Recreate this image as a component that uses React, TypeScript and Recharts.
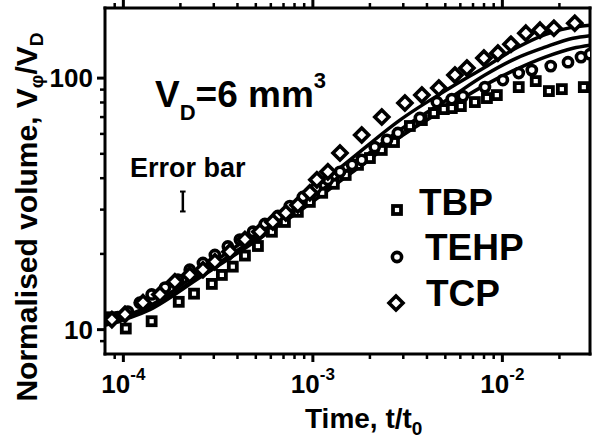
import React from "react";
import { ComposedChart, XAxis, YAxis, Line, Scatter, ReferenceLine } from "recharts";

const FONT = "'Liberation Sans', Arial, Helvetica, sans-serif";

// measured points (t/t0, V/VD)
const tbpTime = [8.7e-5, 1.03e-4, 1.41e-4, 1.96e-4, 2.36e-4, 2.93e-4, 3.31e-4, 3.78e-4, 4.38e-4, 5.13e-4, 6.08e-4, 7.12e-4, 8.33e-4, 9.64e-4, 1.12e-3, 1.29e-3, 1.49e-3, 1.73e-3, 2.0e-3, 2.31e-3, 2.68e-3, 3.25e-3, 3.76e-3, 4.35e-3, 4.91e-3, 5.41e-3, 6.04e-3, 7.16e-3, 8.29e-3, 9.35e-3, 1.22e-2, 1.5e-2, 1.76e-2, 2.06e-2, 2.69e-2];
const tbpVol = [11.2, 10.1, 10.8, 12.9, 13.9, 15.2, 16.5, 17.8, 19.7, 21.5, 24.5, 26.8, 29.4, 32.2, 35.0, 38.0, 41.2, 45.2, 48.1, 51.8, 55.7, 64.5, 68.1, 72.6, 75.3, 76.0, 77.4, 80.3, 83.3, 85.6, 92.1, 97.3, 88.8, 90.4, 92.1];

const tehpTime = [8.49e-5, 9.35e-5, 1.056e-4, 1.22e-4, 1.41e-4, 1.66e-4, 1.94e-4, 2.24e-4, 2.63e-4, 3.04e-4, 3.56e-4, 4.12e-4, 4.83e-4, 5.58e-4, 6.54e-4, 7.56e-4, 8.86e-4, 1.04e-3, 1.2e-3, 1.39e-3, 1.61e-3, 1.81e-3, 2.12e-3, 2.46e-3, 2.81e-3, 3.67e-3, 4.51e-3, 5.41e-3, 6.19e-3, 8.09e-3, 1.006e-2, 1.22e-2, 1.43e-2, 1.8e-2, 2.22e-2, 2.6e-2, 2.9e-2];
const tehpVol = [10.96, 11.2, 11.8, 12.8, 13.8, 14.7, 15.8, 17.3, 18.4, 19.8, 21.4, 22.8, 24.5, 26.3, 28.3, 31.0, 33.7, 36.6, 39.4, 42.4, 45.2, 47.3, 53.2, 56.8, 60.5, 69.4, 80.3, 82.5, 84.8, 92.1, 98.2, 104.7, 107.6, 111.6, 115.7, 121.2, 124.5];

const tcpTime = [8.7e-5, 1.02e-4, 1.27e-4, 1.56e-4, 1.87e-4, 2.24e-4, 2.63e-4, 3.04e-4, 3.65e-4, 4.38e-4, 5.25e-4, 6.15e-4, 7.2e-4, 8.33e-4, 9.64e-4, 1.05e-3, 1.2e-3, 1.39e-3, 1.81e-3, 2.31e-3, 3.06e-3, 3.76e-3, 4.62e-3, 5.62e-3, 6.5e-3, 7.99e-3, 9.47e-3, 1.11e-2, 1.33e-2, 1.58e-2, 1.87e-2, 2.41e-2];
const tcpVol = [10.96, 11.5, 12.8, 13.8, 15.5, 16.5, 17.3, 18.6, 20.4, 22.8, 24.5, 26.8, 29.1, 31.3, 35.0, 39.4, 42.4, 50.4, 59.4, 70.0, 79.6, 85.6, 91.3, 102.8, 109.6, 120.1, 125.7, 136.4, 150.9, 155.1, 157.9, 165.3];

// model curves
const fitTime = [8e-5, 1.38e-4, 2.53e-4, 4.65e-4, 8.54e-4, 1.57e-3, 2.88e-3, 5.28e-3, 8.09e-3, 1.19e-2, 1.68e-2, 2.36e-2, 2.9e-2];
const fitTcpVol = [10.7, 12.45, 17.0, 23.4, 32.8, 47.3, 68.1, 91.3, 110.5, 132.0, 149.0, 159.5, 162.3];
const fitTehpVol = [10.5, 12.1, 16.4, 22.3, 30.8, 43.9, 62.2, 83.3, 102.8, 120.1, 132.7, 144.1, 147.5];
const fitTbpVol = [10.4, 12.0, 16.1, 21.7, 29.7, 41.6, 58.3, 77.4, 93.8, 108.6, 121.2, 131.5, 135.2];

// error bar annotation
const errTime = 2.06e-4;
const errCapLeft = 1.99e-4;
const errCapRight = 2.13e-4;
const errLow = 29.5;
const errHigh = 35.4;

const xMajor = [1e-4, 1e-3, 1e-2];
const xExp = ["-4", "-3", "-2"];
const xMinor = [9e-5, 2e-4, 3e-4, 4e-4, 5e-4, 6e-4, 7e-4, 8e-4, 9e-4, 2e-3, 3e-3, 4e-3, 5e-3, 6e-3, 7e-3, 8e-3, 9e-3, 2e-2];
const yMajor = [10, 100];
const yMinor = [9, 20, 30, 40, 50, 60, 70, 80, 90];

const xDomain = [8e-5, 0.029];
const yDomain = [8, 190];

const pts = (ts: number[], vs: number[]) => ts.map((t, i) => ({ t, v: vs[i] }));

const tbpData = pts(tbpTime, tbpVol);
const tehpData = pts(tehpTime, tehpVol);
const tcpData = pts(tcpTime, tcpVol);

const SquareMark = (p: any) => (
  <rect x={p.cx - 4} y={p.cy - 4} width={8} height={8} fill="#fff" stroke="#000" strokeWidth={3.8} />
);
const CircleMark = (p: any) => (
  <circle cx={p.cx} cy={p.cy} r={4.6} fill="#fff" stroke="#000" strokeWidth={3.6} />
);
const DiamondMark = (p: any) => (
  <path
    d={`M${p.cx},${p.cy - 7}L${p.cx + 7},${p.cy}L${p.cx},${p.cy + 7}L${p.cx - 7},${p.cy}Z`}
    fill="#fff"
    stroke="#000"
    strokeWidth={3.6}
  />
);

const BottomTick = (props: any) => {
  const { x, y, payload } = props;
  const i = xMajor.indexOf(payload.value);
  const major = i >= 0;
  return (
    <g>
      <line x1={x} x2={x} y1={y} y2={y + (major ? 8 : 5)} stroke="#000" strokeWidth={major ? 3 : 2.5} />
      {major && (
        <text x={x} y={y + 39} textAnchor="middle" fontFamily={FONT} fontWeight="bold" fontSize={26} fill="#000">
          10
          <tspan dy={-13} fontSize={17}>
            {xExp[i]}
          </tspan>
        </text>
      )}
    </g>
  );
};

const TopTick = (props: any) => {
  const { x, y, payload } = props;
  const major = xMajor.includes(payload.value);
  return <line x1={x} x2={x} y1={y} y2={y - (major ? 8 : 5)} stroke="#000" strokeWidth={major ? 3 : 2.5} />;
};

const LeftTick = (props: any) => {
  const { x, y, payload } = props;
  const major = yMajor.includes(payload.value);
  return (
    <g>
      <line x1={x} x2={x - (major ? 8 : 5)} y1={y} y2={y} stroke="#000" strokeWidth={major ? 3 : 2.5} />
      {major && (
        <text x={x - 12} y={y + 9} textAnchor="end" fontFamily={FONT} fontWeight="bold" fontSize={26} fill="#000">
          {payload.value}
        </text>
      )}
    </g>
  );
};

const frame = { stroke: "#000", strokeWidth: 3, strokeLinecap: "square" as const };

export default function App() {
  const allX = [...xMajor, ...xMinor].sort((a, b) => a - b);
  const allY = [...yMinor, ...yMajor].sort((a, b) => a - b);
  return (
    <div style={{ position: "absolute", left: 0, top: 0, width: 592, height: 439, background: "#fff" }}>
      <ComposedChart width={592} height={439} margin={{ top: 0, right: 0, bottom: 0, left: 0 }}>
        <XAxis
          xAxisId="main"
          dataKey="t"
          type="number"
          scale="log"
          domain={xDomain}
          allowDataOverflow
          ticks={allX}
          interval={0}
          height={85}
          tickSize={0}
          tickMargin={0}
          tickLine={false}
          axisLine={frame}
          tick={<BottomTick />}
        />
        <XAxis
          xAxisId="top"
          orientation="top"
          dataKey="t"
          type="number"
          scale="log"
          domain={xDomain}
          allowDataOverflow
          ticks={allX}
          interval={0}
          height={8}
          tickSize={0}
          tickMargin={0}
          tickLine={false}
          axisLine={frame}
          tick={<TopTick />}
        />
        <YAxis
          yAxisId="main"
          dataKey="v"
          type="number"
          scale="log"
          domain={yDomain}
          allowDataOverflow
          ticks={allY}
          interval={0}
          width={105}
          tickSize={0}
          tickMargin={0}
          tickLine={false}
          axisLine={frame}
          tick={<LeftTick />}
        />
        <YAxis
          yAxisId="right"
          orientation="right"
          dataKey="v"
          type="number"
          scale="log"
          domain={yDomain}
          allowDataOverflow
          width={2}
          tick={false}
          tickLine={false}
          axisLine={frame}
        />
        <Scatter xAxisId="main" yAxisId="main" data={tbpData} dataKey="v" shape={SquareMark} isAnimationActive={false} />
        <Scatter xAxisId="main" yAxisId="main" data={tehpData} dataKey="v" shape={CircleMark} isAnimationActive={false} />
        <Scatter xAxisId="main" yAxisId="main" data={tcpData} dataKey="v" shape={DiamondMark} isAnimationActive={false} />
        <Line xAxisId="main" yAxisId="main" data={pts(fitTime, fitTbpVol)} dataKey="v" type="monotone" stroke="#000" strokeWidth={3.5} dot={false} isAnimationActive={false} />
        <Line xAxisId="main" yAxisId="main" data={pts(fitTime, fitTehpVol)} dataKey="v" type="monotone" stroke="#000" strokeWidth={3.5} dot={false} isAnimationActive={false} />
        <Line xAxisId="main" yAxisId="main" data={pts(fitTime, fitTcpVol)} dataKey="v" type="monotone" stroke="#000" strokeWidth={3.5} dot={false} isAnimationActive={false} />
        <ReferenceLine xAxisId="main" yAxisId="main" segment={[{ x: errTime, y: errLow }, { x: errTime, y: errHigh }]} stroke="#000" strokeWidth={2.5} />
        <ReferenceLine xAxisId="main" yAxisId="main" segment={[{ x: errCapLeft, y: errLow }, { x: errCapRight, y: errLow }]} stroke="#000" strokeWidth={2} />
        <ReferenceLine xAxisId="main" yAxisId="main" segment={[{ x: errCapLeft, y: errHigh }, { x: errCapRight, y: errHigh }]} stroke="#000" strokeWidth={2} />
      </ComposedChart>
      <svg width={592} height={439} style={{ position: "absolute", left: 0, top: 0, pointerEvents: "none" }}>
        <g fontFamily={FONT} fontWeight="bold" fill="#000">
          <text x={155} y={107} fontSize={37}>
            V<tspan dy={13} fontSize={22}>D</tspan>
            <tspan dy={-13}>=6 mm</tspan>
            <tspan dy={-19} fontSize={22}>3</tspan>
          </text>
          <text x={130} y={177} fontSize={27}>Error bar</text>

          <SquareMark cx={397} cy={210} />
          <text x={419} y={215} fontSize={37}>TBP</text>
          <CircleMark cx={397} cy={257} />
          <text x={425} y={260} fontSize={37}>TEHP</text>
          <DiamondMark cx={396} cy={303} />
          <text x={426} y={306} fontSize={37}>TCP</text>

          <text x={305} y={428} fontSize={28}>
            Time, t/t<tspan dy={7} fontSize={19}>0</tspan>
          </text>
          <text x={37} y={217} fontSize={30} textAnchor="middle" transform="rotate(-90 37 217)">
            Normalised volume, V<tspan dy={6} fontSize={19}>φ</tspan>
            <tspan dy={-6}>/V</tspan>
            <tspan dy={6} fontSize={19}>D</tspan>
          </text>
        </g>
      </svg>
    </div>
  );
}
